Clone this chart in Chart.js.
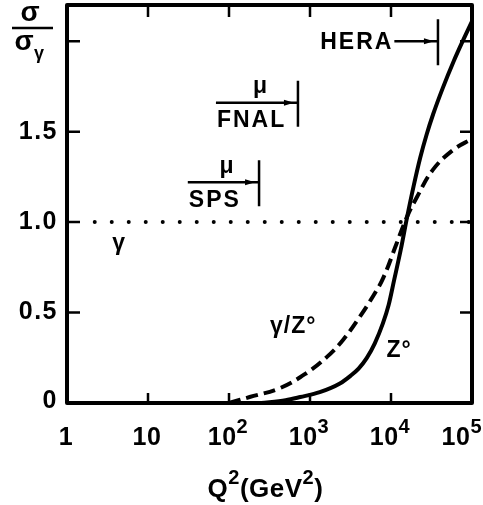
<!DOCTYPE html>
<html>
<head>
<meta charset="utf-8">
<script src="https://cdn.jsdelivr.net/npm/chart.js@4.4.1/dist/chart.umd.min.js"></script>
<style>
    html, body { margin: 0; padding: 0; background: #fff; }
    #wrap { width: 483px; height: 505px; }
</style>
</head>
<body>
<div id="wrap"><canvas id="grafico" width="483" height="505"></canvas></div>
<script>
// sigma / sigma_gamma versus Q^2
const zQ2 = [251, 500, 760, 1320, 2340, 3160, 3980, 5010, 6310, 7940, 9330, 10960, 13180, 15850, 19050, 22900, 27540, 33110, 43650, 58880, 77620, 100000];
const zRatio = [0, 0.015, 0.033, 0.06, 0.108, 0.15, 0.19, 0.248, 0.33, 0.44, 0.54, 0.682, 0.846, 1.03, 1.20, 1.354, 1.484, 1.596, 1.742, 1.885, 2.005, 2.11];

const gzQ2 = [100, 180, 430, 910, 1620, 2570, 4170, 6000, 8000, 11700, 15800, 21000, 33000, 59000, 100000];
const gzRatio = [0, 0.033, 0.083, 0.166, 0.255, 0.35, 0.48, 0.59, 0.69, 0.88, 1.03, 1.14, 1.29, 1.40, 1.46];

const gammaQ2 = [2.2, 100000];
const gammaRatio = [1, 1];

const xTicks = [1, 10, 100, 1000, 10000, 100000];
const xTickBase = ['1', '10', '10', '10', '10', '10'];
const xTickExp = ['', '', '2', '3', '4', '5'];
const yTicks = [0, 0.5, 1.0, 1.5, 2.0];
const yLabels = ['0', '0.5', '1.0', '1.5', ''];

// alcance de cada experimento (seta ate o limite em Q^2)
const expNames = ['SPS', 'FNAL', 'HERA'];
const expFrom = [31, 69, 11000];
const expTo = [235, 710, 38000];
const expY = [1.22, 1.66, 2.0];

const FONTE = "'Liberation Sans Narrow', 'Liberation Sans', Arial, sans-serif";

function pontos(xs, ys) {
    return xs.map((v, i) => ({ x: v, y: ys[i] }));
}

// texto com partes em expoente: [texto, ehExpoente]
function textoExpoente(ctx, partes, cx, base, tam, tamExp, sobe, maxDir) {
    const fonteN = 'bold ' + tam + 'px ' + FONTE;
    const fonteE = 'bold ' + tamExp + 'px ' + FONTE;
    let larg = 0;
    partes.forEach(([t, e]) => { ctx.font = e ? fonteE : fonteN; larg += ctx.measureText(t).width; });
    let px = cx - larg / 2;
    if (maxDir && px + larg > maxDir) px = maxDir - larg;
    ctx.textAlign = 'left';
    ctx.textBaseline = 'alphabetic';
    partes.forEach(([t, e]) => {
        ctx.font = e ? fonteE : fonteN;
        ctx.fillText(t, px, e ? base - sobe : base);
        px += ctx.measureText(t).width;
    });
}

const moldura = {
    id: 'moldura',
    afterDatasetsDraw(chart) {
        const { ctx, chartArea: a, scales: { x, y } } = chart;
        ctx.save();
        ctx.strokeStyle = '#000';
        ctx.fillStyle = '#000';
        ctx.lineJoin = 'round';
        ctx.lineWidth = 4;
        ctx.strokeRect(a.left, a.top, a.right - a.left, a.bottom - a.top);

        // marcas para dentro nos quatro lados
        ctx.lineWidth = 2.5;
        ctx.beginPath();
        yTicks.slice(1).forEach(v => {
            const py = y.getPixelForValue(v);
            ctx.moveTo(a.left, py); ctx.lineTo(a.left + 13, py);
            ctx.moveTo(a.right, py); ctx.lineTo(a.right - 12, py);
        });
        xTicks.slice(1, -1).forEach(v => {
            const px = x.getPixelForValue(v);
            ctx.moveTo(px, a.bottom); ctx.lineTo(px, a.bottom - 10);
            ctx.moveTo(px, a.top); ctx.lineTo(px, a.top + 12);
        });
        ctx.stroke();

        // rotulos do eixo x (potencias de 10) e titulo
        ctx.letterSpacing = '0.5px';
        xTicks.forEach((v, i) => {
            const partes = [[xTickBase[i], false]];
            if (xTickExp[i]) partes.push([xTickExp[i], true]);
            textoExpoente(ctx, partes, x.getPixelForValue(v) - 1, a.bottom + 42, 25, 20, 12, 482);
        });
        textoExpoente(ctx, [['Q', false], ['2', true], ['(GeV', false], ['2', true], [')', false]],
            (a.left + a.right) / 2 - 4, 497, 26, 20, 13);

        // rotulos do eixo y
        ctx.font = 'bold 25px ' + FONTE;
        ctx.letterSpacing = '1.5px';
        ctx.textAlign = 'right';
        ctx.textBaseline = 'middle';
        yTicks.forEach((v, i) => {
            ctx.fillText(yLabels[i], a.left - 9, y.getPixelForValue(v) - (v === 0 ? 2 : 0));
        });

        // setas dos experimentos
        ctx.font = 'bold 23px ' + FONTE;
        ctx.letterSpacing = '2px';
        expNames.forEach((nome, i) => {
            const x0 = x.getPixelForValue(expFrom[i]);
            const x1 = x.getPixelForValue(expTo[i]);
            const py = y.getPixelForValue(expY[i]);
            ctx.lineWidth = 2.5;
            ctx.beginPath();
            ctx.moveTo(x0, py); ctx.lineTo(x1, py);
            ctx.moveTo(x1, py - 22); ctx.lineTo(x1, py + 24);
            ctx.stroke();
            ctx.beginPath();
            ctx.moveTo(x1 - 4, py);
            ctx.lineTo(x1 - 14, py - 3);
            ctx.lineTo(x1 - 14, py + 3);
            ctx.closePath();
            ctx.fill();
            if (nome === 'HERA') {
                ctx.textAlign = 'right';
                ctx.fillText(nome, x0 - 1, py + 1);
            } else {
                ctx.textAlign = 'center';
                ctx.fillText('μ', (x0 + x1) / 2 + 4, py - 16);
                ctx.textAlign = 'left';
                ctx.fillText(nome, x0 + 1, py + 18);
            }
        });

        // rotulos das curvas
        ctx.textAlign = 'center';
        ctx.letterSpacing = '1px';
        ctx.fillText('γ', x.getPixelForValue(4.4), y.getPixelForValue(0.88));
        ctx.fillText('γ/Z°', x.getPixelForValue(620), y.getPixelForValue(0.42));
        ctx.fillText('Z°', x.getPixelForValue(12600), y.getPixelForValue(0.29));

        // titulo do eixo y: sigma / sigma_gamma
        ctx.letterSpacing = '0px';
        ctx.font = 'bold 28px ' + FONTE;
        ctx.fillText('σ', 30, 13);
        ctx.lineWidth = 2.5;
        ctx.beginPath();
        ctx.moveTo(12, 28); ctx.lineTo(53, 28);
        ctx.stroke();
        ctx.fillText('σ', 24, 42);
        ctx.font = 'bold 18px ' + FONTE;
        ctx.fillText('γ', 39, 54);
        ctx.restore();
    }
};

const ctx = document.getElementById('grafico').getContext('2d');

const grafico = new Chart(ctx, {
    type: 'line',
    data: {
        datasets: [{
            label: 'Z°',
            data: pontos(zQ2, zRatio),
            borderColor: '#000',
            borderWidth: 4,
            pointRadius: 0,
            cubicInterpolationMode: 'monotone'
        }, {
            label: 'γ/Z°',
            data: pontos(gzQ2, gzRatio),
            borderColor: '#000',
            borderWidth: 4,
            borderDash: [12, 6],
            pointRadius: 0,
            tension: 0.4
        }, {
            label: 'γ',
            data: pontos(gammaQ2, gammaRatio),
            borderColor: '#000',
            borderWidth: 4,
            borderDash: [0, 17],
            borderCapStyle: 'round',
            pointRadius: 0
        }]
    },
    options: {
        responsive: false,
        animation: false,
        layout: { padding: { top: 5, right: 11, left: 0, bottom: 0 } },
        plugins: {
            legend: { display: false },
            tooltip: { enabled: false }
        },
        scales: {
            x: {
                type: 'logarithmic',
                min: 1,
                max: 100000,
                grid: { display: false, drawTicks: false },
                border: { display: false },
                ticks: { display: false },
                afterBuildTicks: s => { s.ticks = xTicks.map(v => ({ value: v })); },
                afterFit: s => { s.height = 102; s.paddingLeft = 0; s.paddingRight = 0; }
            },
            y: {
                min: 0,
                max: 2.2,
                grid: { display: false, drawTicks: false },
                border: { display: false },
                ticks: { display: false },
                afterBuildTicks: s => { s.ticks = yTicks.map(v => ({ value: v })); },
                afterFit: s => { s.width = 67; s.paddingTop = 0; s.paddingBottom = 0; }
            }
        }
    },
    plugins: [moldura]
});
</script>
</body>
</html>
